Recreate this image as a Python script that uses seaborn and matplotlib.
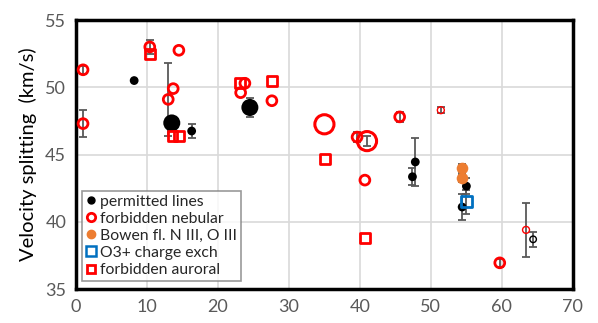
import numpy as np
import pandas as pd
import matplotlib
matplotlib.use("Agg")
import matplotlib.pyplot as plt
from matplotlib.lines import Line2D
import seaborn as sns

# Data

# permitted lines (black filled)
perm_x = [8.2, 13.5, 16.3, 24.5, 47.8, 47.4, 55.0, 54.4]
perm_y = [50.5, 47.35, 46.75, 48.5, 44.45, 43.35, 42.65, 41.1]
perm_err = [0, 0, 0.55, 0.7, 1.8, 0.65, 0.6, 0.95]
perm_size = ["n", "L", "n", "L", "n", "n", "n", "n"]

# permitted line, open black marker
open_x = [64.4]
open_y = [38.7]
open_err = [0.55]

# forbidden nebular (red open circles)
neb_x = [1.0, 1.0, 10.4, 14.5, 13.7, 13.0, 23.8, 23.2, 27.6, 35.0, 39.6, 41.0, 45.6, 51.4, 40.7, 59.7, 63.4]
neb_y = [51.3, 47.3, 53.0, 52.75, 49.9, 49.1, 50.3, 49.6, 49.0, 47.25, 46.3, 46.0, 47.8, 48.3, 43.1, 36.95, 39.4]
neb_err = [0.3, 1.0, 0.5, 0, 0, 2.7, 0, 0, 0, 0, 0.4, 0.4, 0.4, 0.2, 0, 0.3, 2.0]
neb_size = ["n", "n", "n", "n", "n", "n", "n", "n", "n", "L", "n", "L", "n", "s", "n", "n", "s"]

# Bowen fluorescence N III, O III (orange)
bow_x = [54.4, 54.4]
bow_y = [43.97, 43.23]
bow_err = [0.3, 0.3]

# O3+ charge exchange (blue open square)
o3_x = [55.0]
o3_y = [41.5]
o3_err = [0.9]

# forbidden auroral (red open squares)
aur_x = [10.4, 13.6, 14.5, 23.1, 27.6, 35.1, 40.7]
aur_y = [52.45, 46.4, 46.4, 50.3, 50.45, 44.7, 38.8]

sns.set_style("white")
plt.rcParams["font.family"] = ["Lato", "DejaVu Sans"]
fig, ax = plt.subplots(figsize=(5.98, 3.23), dpi=100)
fig.subplots_adjust(left=0.127, right=0.958, top=0.938, bottom=0.105)

ebc = "#595959"
# error bars drawn first so the markers sit on top
for xs, ys, es in [(perm_x, perm_y, perm_err), (open_x, open_y, open_err),
                   (neb_x, neb_y, neb_err), (bow_x, bow_y, bow_err), (o3_x, o3_y, o3_err)]:
    xs = np.array(xs); ys = np.array(ys); es = np.array(es)
    m = es > 0
    ax.errorbar(xs[m], ys[m], yerr=es[m], fmt="none", ecolor=ebc,
                elinewidth=1.3, capsize=3, capthick=1.3, zorder=2)

perm = pd.DataFrame({"x": perm_x, "y": perm_y, "sz": perm_size})
sns.scatterplot(data=perm, x="x", y="y", size="sz", sizes={"n": 40, "L": 150},
                color="black", edgecolor="black", linewidth=0, legend=False, ax=ax, zorder=3)

sns.scatterplot(x=open_x, y=open_y, s=22, facecolor="none", edgecolor="black",
                linewidth=1.0, ax=ax, zorder=3)

neb = pd.DataFrame({"x": neb_x, "y": neb_y, "sz": neb_size})
for key, s, lw in [("n", 50, 2.0), ("L", 190, 2.2), ("s", 25, 1.0)]:
    d = neb[neb["sz"] == key]
    sns.scatterplot(data=d, x="x", y="y", s=s, facecolor="none", edgecolor="red",
                    linewidth=lw, ax=ax, zorder=4)

sns.scatterplot(x=bow_x, y=bow_y, s=70, color="#ED7D31", linewidth=0, ax=ax, zorder=4)
sns.scatterplot(x=o3_x, y=o3_y, marker="s", s=60, facecolor="none",
                edgecolor="#0070C0", linewidth=2.0, ax=ax, zorder=4)
sns.scatterplot(x=aur_x, y=aur_y, marker="s", s=50, facecolor="none",
                edgecolor="red", linewidth=2.0, ax=ax, zorder=4)

ax.set_xlim(0, 70)
ax.set_ylim(35, 55)
ax.set_xticks(range(0, 71, 10))
ax.set_yticks(range(35, 56, 5))
ax.grid(True, color="#d9d9d9", linewidth=1.2)
ax.set_axisbelow(True)
for sp in ax.spines.values():
    sp.set_color("black")
    sp.set_linewidth(2.5)
ax.tick_params(axis="both", labelsize=13, labelcolor="#595959", length=0, pad=7)
ax.set_xlabel("")
ax.set_ylabel("Velocity splitting  (km/s)", fontsize=14.5, color="black", labelpad=6)

handles = [
    Line2D([], [], marker="o", ls="", color="black", markersize=5),
    Line2D([], [], marker="o", ls="", markerfacecolor="none", markeredgecolor="red",
           markeredgewidth=2, markersize=6),
    Line2D([], [], marker="o", ls="", color="#ED7D31", markersize=6),
    Line2D([], [], marker="s", ls="", markerfacecolor="none", markeredgecolor="#0070C0",
           markeredgewidth=1.8, markersize=7),
    Line2D([], [], marker="s", ls="", markerfacecolor="none", markeredgecolor="red",
           markeredgewidth=2, markersize=6),
]
labels = ["permitted lines", "forbidden nebular", "Bowen fl. N III, O III",
          "O3+ charge exch", "forbidden auroral"]
leg = ax.legend(handles, labels, loc="lower left", bbox_to_anchor=(0.012, 0.03),
                fontsize=11.3, frameon=True, fancybox=False, handlelength=0.6,
                handletextpad=0.3, borderpad=0.25, labelspacing=0.2, borderaxespad=0)
leg.get_frame().set_edgecolor("#808080")
leg.get_frame().set_linewidth(1.2)
for t in leg.get_texts():
    t.set_color("#262626")
leg.set_zorder(10)

plt.savefig("out.png", dpi=100)
